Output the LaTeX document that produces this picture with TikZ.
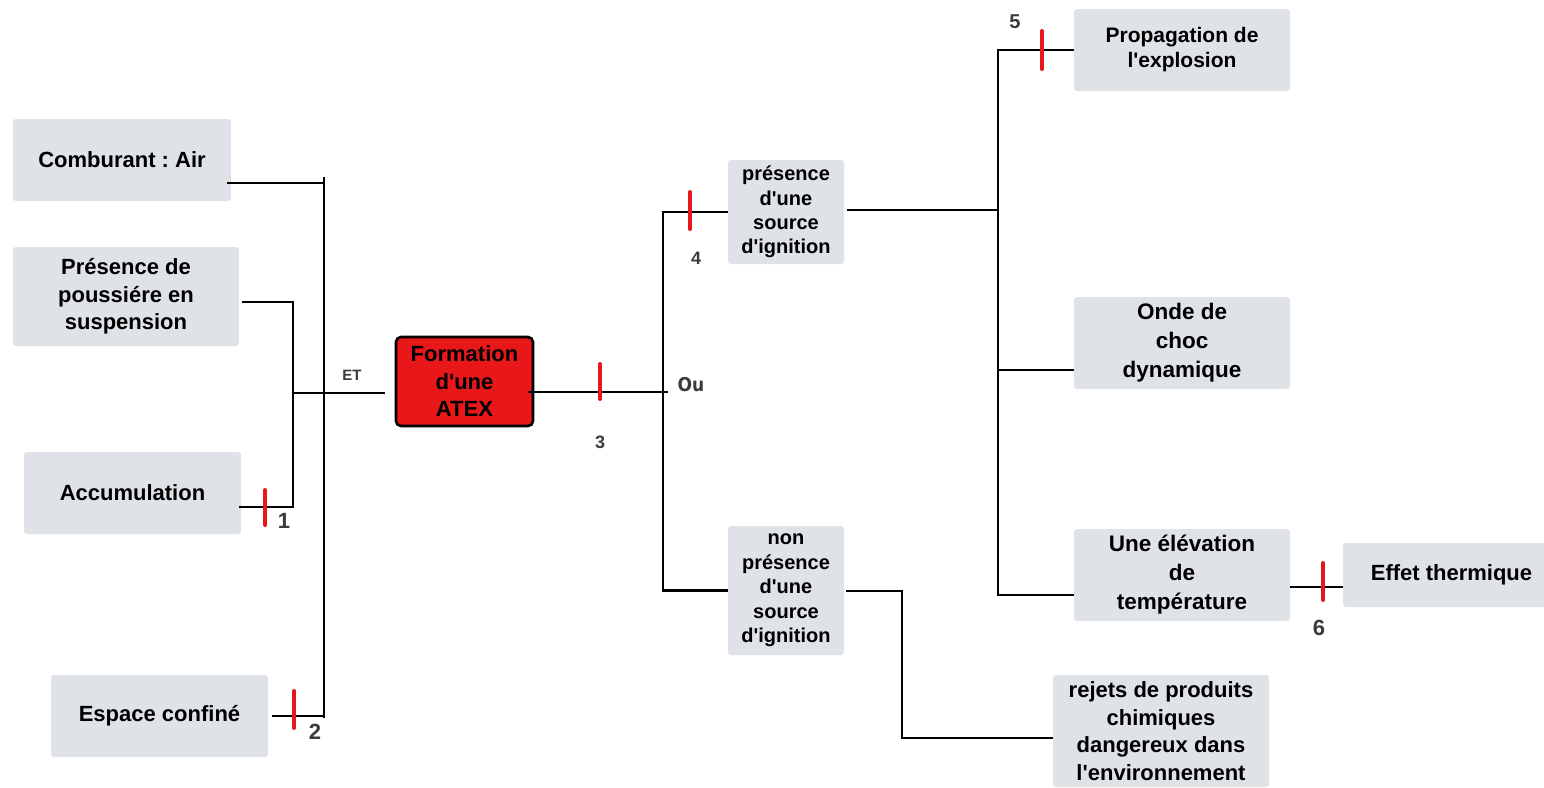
\documentclass[tikz,border=0pt]{standalone}
\usepackage{fontspec}
\setmainfont{Liberation Sans}
\newfontfamily\labelcond{DejaVu Sans Condensed}
\usetikzlibrary{calc}
\newcommand{\ap}{\textquotesingle}
\definecolor{boxgray}{RGB}{223,226,231}
\definecolor{alarmred}{RGB}{232,23,26}
\definecolor{numgray}{RGB}{58,58,58}
\tikzset{
  box/.style={fill=boxgray, rounded corners=3pt, align=center, inner sep=0pt,
    font=\frenchspacing\bfseries\fontsize{22}{27.5}\selectfont},
  smallbox/.style={box, font=\bfseries\fontsize{20}{24.4}\selectfont},
  topbox/.style={box, font=\bfseries\fontsize{21}{25}\selectfont},
  tallbox/.style={box, font=\bfseries\fontsize{22.5}{29}\selectfont},
  eventbox/.style={fill=alarmred, draw=black, line width=2.6pt, rounded corners=5pt,
    align=center, inner sep=0pt, font=\bfseries\fontsize{22}{27.5}\selectfont},
  wire/.style={line width=2.6pt, black},
  barrier/.style={line width=4pt, alarmred, line cap=round},
  num/.style={text=numgray, inner sep=0pt, font=\bfseries\fontsize{#1}{#1}\selectfont},
}
\begin{document}
\begin{tikzpicture}[x=1pt, y=-1pt]
\clip (0,0) rectangle (1544,787);
\fill[white] (0,0) rectangle (1544,787);

% causes
\node[box, minimum width=218, minimum height=82] (comb) at (122,160) {Comburant : Air};
\node[box, minimum width=226, minimum height=99] (pous) at (126,296.5) {Présence de\\poussiére en\\suspension};
\node[box, minimum width=217, minimum height=82] (accu) at (132.5,493) {Accumulation};
\node[box, minimum width=217, minimum height=82] (esp) at (159.5,716) {Espace confiné};

% central event
\node[eventbox, minimum width=137, minimum height=89] (atex) at (464.5,381.5) {Formation\\d\ap une\\ATEX};

% ignition alternatives
\node[smallbox, minimum width=116, minimum height=104] (pres) at (786,212) {présence\\d\ap une\\source\\d\ap ignition};
\node[smallbox, minimum width=116, minimum height=129] (nonp) at (786,590.5) {non\\présence\\d\ap une\\source\\d\ap ignition};

% consequences
\node[topbox, minimum width=216, minimum height=82] (prop) at (1182,50) {Propagation de\\l\ap explosion};
\node[tallbox, minimum width=216, minimum height=92] (onde) at (1182,343) {Onde de\\choc\\dynamique};
\node[tallbox, minimum width=216, minimum height=92] (elev) at (1182,575) {Une élévation\\de\\température};
\node[box, minimum width=217, minimum height=64] (eff) at (1451.5,575) {Effet thermique};
\node[box, minimum width=216, minimum height=112] (rej) at (1161,731) {rejets de produits\\chimiques\\dangereux dans\\l\ap environnement};

% bus positions and connection points
\coordinate (bus1top) at (324,177);
\coordinate (bus1bot) at (324,718);
\coordinate (bus2bot) at (293,507);
\coordinate (bus2mid) at (293,393);
\coordinate (orjoin) at (668,392);
\coordinate (bus3x) at (663,0);
\coordinate (bus4x) at (998,0);
\coordinate (bus5x) at (902,0);
\coordinate (combout) at ($(comb.east)+(-4,23)$);
\coordinate (pousout) at ($(pous.east)+(3,5.5)$);
\coordinate (accout) at ($(accu.east)+(-2,14)$);
\coordinate (espout) at ($(esp.east)+(4,0)$);
\coordinate (atexin) at ($(atex.west)+(-10,11.5)$);
\coordinate (atexout) at ($(atex.east)+(-6,10.5)$);
\coordinate (presout) at ($(pres.east)+(3,-2)$);
\coordinate (nonpout) at ($(nonp.east)+(2,0.5)$);
\coordinate (rejin) at ($(rej.west)+(0,7)$);
\coordinate (ondein) at ($(onde.west)+(0,27)$);
\coordinate (elevin) at ($(elev.west)+(0,20)$);
\coordinate (elevout) at ($(elev.east)+(0,12)$);
\coordinate (effin) at ($(eff.west)+(0,12)$);

% AND gate side
\draw[wire] (bus1top) -- (bus1bot);
\draw[wire] (combout) -- (combout -| bus1top);
\draw[wire] (espout) -- (espout -| bus1top);
\draw[wire] (pousout) -| (bus2bot) -- (accout);
\draw[wire] (bus2mid) -- (atexin);

% OR gate side
\draw[wire] (atexout) -- (orjoin);
\draw[wire] (pres.west) -- (pres.west -| bus3x) -- (nonp.west -| bus3x) -- (nonp.west);

% consequences
\draw[wire] (presout) -- (presout -| bus4x);
\draw[wire] (prop.west) -- (prop.west -| bus4x) -- (elevin -| bus4x) -- (elevin);
\draw[wire] (ondein -| bus4x) -- (ondein);
\draw[wire] (elevout) -- (effin);
\draw[wire] (nonpout) -- (nonpout -| bus5x) -- (rejin -| bus5x) -- (rejin);

% safety barriers
\draw[barrier] (265,490) -- (265,525);
\draw[barrier] (294,691) -- (294,728);
\draw[barrier] (600,364) -- (600,399);
\draw[barrier] (690,192) -- (690,229);
\draw[barrier] (1042,31) -- (1042,69);
\draw[barrier] (1323,563) -- (1323,600);

% gate and barrier labels
\node[num=15] (lblet) at (352,375) {ET};
\node[text=numgray, inner sep=0pt, font=\labelcond\bfseries\fontsize{19}{19}\selectfont] (lblou) at (691,385) {Ou};
\node[num=22] (lbl1) at (284,521) {1};
\node[num=22] (lbl2) at (315,732) {2};
\node[num=18] (lbl3) at (600,442) {3};
\node[num=18] (lbl4) at (696,258) {4};
\node[num=20] (lbl5) at (1015,22) {5};
\node[num=22] (lbl6) at (1319,628) {6};
\end{tikzpicture}
\end{document}
